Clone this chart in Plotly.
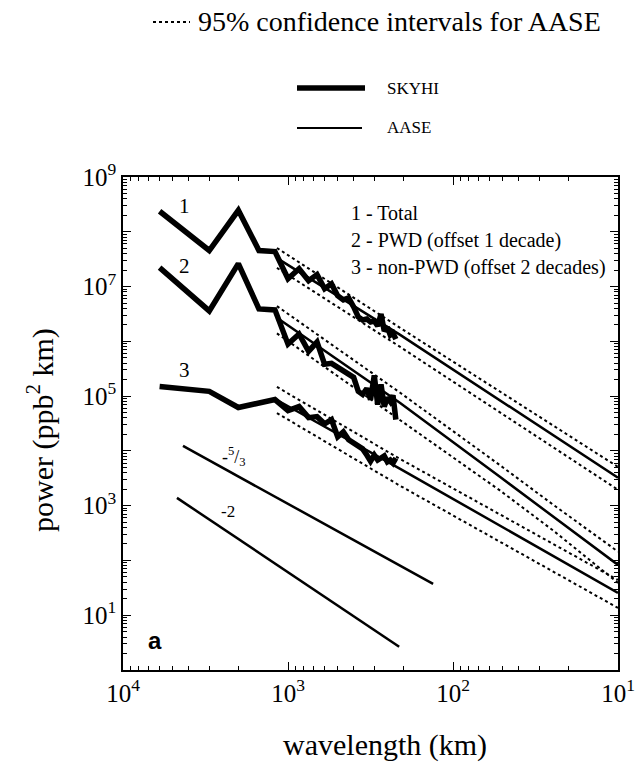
import plotly.graph_objects as go

# ---------------- data ----------------
# SKYHI spectra (wavelength in km, power in ppb^2 km)
skyhi_wavelength = [6000, 3000, 2000, 1500, 1200, 1000, 857, 750, 667, 600, 545, 500,
                    462, 429, 400, 375, 353, 333, 316, 300, 286, 273, 261, 250, 240, 231, 222]
skyhi_total = [2.37e8, 4.55e7, 2.47e8, 4.55e7, 4.36e7, 1.39e7, 2.12e7, 1.28e7, 1.65e7, 9.1e6,
               1.12e7, 6.8e6, 5.7e6, 6.2e6, 4.25e6, 2.79e6, 2.45e6, 2.56e6, 2.25e6, 2.35e6,
               1.90e6, 3.16e6, 1.54e6, 1.82e6, 1.30e6, 1.42e6, 1.10e6]
skyhi_pwd = [2.22e7, 3.59e6, 2.62e7, 3.91e6, 3.75e6, 8.9e5, 1.36e6, 6.6e5, 9.7e5, 3.81e5,
             3.97e5, 3.36e5, 2.83e5, 2.50e5, 2.20e5, 1.22e5, 1.07e5, 1.38e5, 8.65e4, 2.39e5,
             7.0e4, 1.63e5, 6.4e4, 9.4e4, 7.96e4, 1.03e5, 3.72e4]
skyhi_nonpwd = [1.50e5, 1.22e5, 6.2e4, 7.3e4, 8.65e4, 5.43e4, 6.44e4, 4.05e4, 4.22e4, 3.13e4,
                3.72e4, 1.81e4, 2.23e4, 1.59e4, 1.40e4, 1.19e4, 1.09e4, 8.4e3, 6.5e3, 8.4e3,
                6.8e3, 7.4e3, 8.1e3, 6.3e3, 6.8e3, 6.0e3, 7.4e3]

# AASE spectra and 95% confidence intervals
aase_total_wl = [1167, 209, 10]
aase_total = [3.3e7, 1.31e6, 3.24e3]
aase_total_hi = [5.06e7, 1.76e6, 5.1e3]
aase_total_lo = [2.19e7, 7.9e5, 1.95e3]

aase_pwd_wl = [1167, 209, 52, 24.8, 10]
aase_pwd = [2.7e6, 7.5e4, 3.36e3, 631, 83]
aase_pwd_hi = [4.4e6, 1.15e5, 5.5e3, 1.05e3, 145]
aase_pwd_lo = [1.4e6, 3.7e4, 1.9e3, 355, 39]

aase_nonpwd_wl = [1167, 209, 10]
aase_nonpwd = [8.5e4, 4.7e3, 25.6]
aase_nonpwd_hi = [1.47e5, 7.1e3, 44]
aase_nonpwd_lo = [4.9e4, 2.3e3, 13.6]

# reference slopes
ref53_wl = [4330, 132]
ref53_pow = [1.23e4, 37.4]
ref2_wl = [4710, 212]
ref2_pow = [1387, 2.65]

x_tickvals = [1e4, 1e3, 1e2, 1e1]
x_ticktext = ["10<sup>4</sup>", "10<sup>3</sup>", "10<sup>2</sup>", "10<sup>1</sup>"]
y_tickvals = [1e0, 1e1, 1e2, 1e3, 1e4, 1e5, 1e6, 1e7, 1e8, 1e9]
y_ticktext = ["", "10<sup>1</sup>", "", "10<sup>3</sup>", "", "10<sup>5</sup>", "",
              "10<sup>7</sup>", "", "10<sup>9</sup>"]

SERIF = "Liberation Serif"
BLACK = "black"

fig = go.Figure()

# confidence intervals (dotted)
for wl, hi, lo in [(aase_total_wl, aase_total_hi, aase_total_lo),
                   (aase_pwd_wl, aase_pwd_hi, aase_pwd_lo),
                   (aase_nonpwd_wl, aase_nonpwd_hi, aase_nonpwd_lo)]:
    for ys in (hi, lo):
        fig.add_trace(go.Scatter(x=wl, y=ys, mode="lines",
                                 line=dict(color=BLACK, width=2, dash="dot"),
                                 showlegend=False, hoverinfo="skip"))

# AASE (thin solid)
for wl, ys in [(aase_total_wl, aase_total), (aase_pwd_wl, aase_pwd),
               (aase_nonpwd_wl, aase_nonpwd)]:
    fig.add_trace(go.Scatter(x=wl, y=ys, mode="lines",
                             line=dict(color=BLACK, width=2.5),
                             showlegend=False, hoverinfo="skip"))

# reference slope lines
for wl, ys in [(ref53_wl, ref53_pow), (ref2_wl, ref2_pow)]:
    fig.add_trace(go.Scatter(x=wl, y=ys, mode="lines",
                             line=dict(color=BLACK, width=2.5),
                             showlegend=False, hoverinfo="skip"))

# SKYHI (thick)
for ys in (skyhi_total, skyhi_pwd, skyhi_nonpwd):
    fig.add_trace(go.Scatter(x=skyhi_wavelength, y=ys, mode="lines",
                             line=dict(color=BLACK, width=5.5, shape="linear"),
                             showlegend=False, hoverinfo="skip"))

# ---------------- layout ----------------
L, R, T, B = 123, 22, 177, 99
W, H = 640, 769
pw, ph = W - L - R, H - T - B


def px(xp):
    return (xp - L) / pw


def py(yp):
    return (H - B - yp) / ph


x_minor = [m * 10 ** e for e in range(1, 4) for m in range(2, 10)]
y_minor = [m * 10 ** e for e in range(0, 9) for m in range(2, 10)]

axis_common = dict(type="log", showline=True, linecolor=BLACK, linewidth=1.5,
                   mirror="allticks", ticks="inside", ticklen=8, tickwidth=1,
                   tickcolor=BLACK, showgrid=False, zeroline=False, automargin=False,
                   tickfont=dict(family=SERIF, size=25, color=BLACK))

fig.update_layout(
    template="none",
    width=W, height=H, autosize=False,
    margin=dict(l=L, r=R, t=T, b=B, pad=0),
    paper_bgcolor="white", plot_bgcolor="white",
    showlegend=False,
    xaxis=dict(range=[4, 1], tickmode="array", tickvals=x_tickvals,
               ticktext=x_ticktext,
               minor=dict(tickmode="array", tickvals=x_minor, ticks="inside",
                          ticklen=4, tickwidth=1, tickcolor=BLACK, showgrid=False),
               **axis_common),
    yaxis=dict(range=[0, 9], tickmode="array", tickvals=y_tickvals,
               ticktext=y_ticktext,
               minor=dict(tickmode="array", tickvals=y_minor, ticks="inside",
                          ticklen=4, tickwidth=1, tickcolor=BLACK, showgrid=False),
               **axis_common),
)

ann = []
# axis titles
ann.append(dict(text="power (ppb<sup>2</sup> km)", xref="paper", yref="paper",
                x=px(40), y=py(430), textangle=-90, showarrow=False,
                font=dict(family=SERIF, size=30, color=BLACK),
                xanchor="center", yanchor="middle"))
ann.append(dict(text="wavelength (km)", xref="paper", yref="paper",
                x=px(385), y=py(745), showarrow=False,
                font=dict(family=SERIF, size=30, color=BLACK),
                xanchor="center", yanchor="middle"))
# in-plot key
for txt, yy in [("1 - Total", 213), ("2 - PWD (offset 1 decade)", 240),
                ("3 - non-PWD (offset 2 decades)", 267)]:
    ann.append(dict(text=txt, xref="paper", yref="paper", x=px(349), y=py(yy),
                    xanchor="left", yanchor="middle", showarrow=False,
                    font=dict(family=SERIF, size=20, color=BLACK)))
# curve numbers
for txt, xx, yy in [("1", 184, 206), ("2", 184, 266), ("3", 184, 370)]:
    ann.append(dict(text=txt, xref="paper", yref="paper", x=px(xx), y=py(yy),
                    xanchor="center", yanchor="middle",
                    showarrow=False, font=dict(family=SERIF, size=21, color=BLACK)))
# slope labels
ann.append(dict(text="-<sup>5</sup>/<sub>3</sub>", xref="paper", yref="paper",
                x=px(234), y=py(456), xanchor="center", yanchor="middle",
                showarrow=False, font=dict(family=SERIF, size=18, color=BLACK)))
ann.append(dict(text="-2", xref="paper", yref="paper", x=px(228), y=py(512),
                xanchor="center", yanchor="middle",
                showarrow=False, font=dict(family=SERIF, size=17, color=BLACK)))
# panel letter
ann.append(dict(text="<b>a</b>", xref="paper", yref="paper", x=px(155), y=py(640),
                xanchor="center", yanchor="middle",
                showarrow=False, font=dict(family="Liberation Sans", size=24,
                                           color=BLACK)))
# legend above plot
ann.append(dict(text="95% confidence intervals for AASE", xref="paper", yref="paper",
                x=px(196), y=py(21), xanchor="left", yanchor="middle", showarrow=False,
                font=dict(family=SERIF, size=28, color=BLACK)))
ann.append(dict(text="SKYHI", xref="paper", yref="paper", x=px(385), y=py(88),
                xanchor="left", yanchor="middle", showarrow=False,
                font=dict(family=SERIF, size=17, color=BLACK)))
ann.append(dict(text="AASE", xref="paper", yref="paper", x=px(385), y=py(128),
                xanchor="left", yanchor="middle", showarrow=False,
                font=dict(family=SERIF, size=17, color=BLACK)))
fig.update_layout(annotations=ann)

shapes = [
    dict(type="line", xref="paper", yref="paper", x0=px(153), x1=px(190),
         y0=py(22), y1=py(22), line=dict(color=BLACK, width=2, dash="dot")),
    dict(type="line", xref="paper", yref="paper", x0=px(297), x1=px(365),
         y0=py(88), y1=py(88), line=dict(color=BLACK, width=5.5)),
    dict(type="line", xref="paper", yref="paper", x0=px(297), x1=px(362),
         y0=py(128), y1=py(128), line=dict(color=BLACK, width=2)),
]
fig.update_layout(shapes=shapes)

fig.write_html("out.html",
               config={"displayModeBar": False},
               post_script="document.body.style.margin='0';"
                           "document.body.style.overflow='hidden';")
